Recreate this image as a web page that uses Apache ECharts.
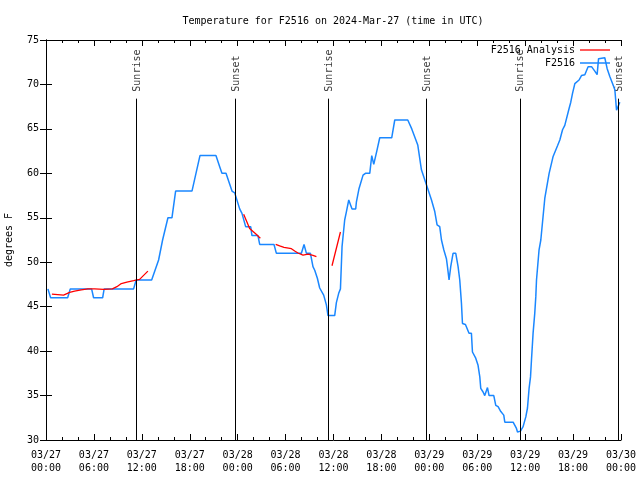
<!DOCTYPE html>
<html><head><meta charset="utf-8">
<script src="https://cdn.jsdelivr.net/npm/echarts@6/dist/echarts.min.js"></script>
<style>html,body{margin:0;padding:0;background:#fff}#c{width:640px;height:480px}</style>
</head><body><div id="c"></div>
<script>
const titleText = 'Temperature for F2516 on 2024-Mar-27 (time in UTC)';
const yAxisName = 'degrees F';
const dayLabels = ['03/27', '03/28', '03/29', '03/30'];

// observed F2516 temperature: hours since 03/27 00:00 UTC, temp in F
const obsHours = [
  0.24,0.58,2.71,3.04,5.71,5.96,7.09,7.28,10.97,11.29,
  13.23,14.1,14.6,15.27,15.77,16.23,18.28,19.28,21.28,21.75,
  22.03,22.54,23.29,23.63,24.25,24.54,25.0,25.63,25.79,26.54,
  26.76,28.55,28.85,31.98,32.31,32.61,33.11,33.43,33.65,33.98,
  34.27,34.77,35.11,35.31,36.15,36.36,36.65,36.87,37.07,37.40,
  37.62,37.91,38.32,38.78,38.87,39.2,39.7,40.0,40.54,40.79,
  41.04,41.42,41.79,43.29,43.67,45.3,45.8,46.55,47.01,47.72,
  48.27,48.68,48.97,49.3,49.52,49.81,50.14,50.27,50.47,50.68,
  50.97,51.31,51.6,51.81,52.02,52.15,52.52,52.97,53.27,53.4,
  53.81,54.1,54.32,54.44,54.73,54.94,55.28,55.48,56.07,56.32,
  56.61,56.95,57.32,57.45,58.49,58.91,59.04,59.41,59.74,60.08,
  60.29,60.49,60.67,60.79,60.99,61.2,61.33,61.42,61.74,61.96,
  62.46,63.0,63.5,64.05,64.34,64.68,64.96,65.5,65.71,65.93,
  66.22,66.75,67.05,67.47,67.88,68.31,68.72,69.01,69.19,69.97,
  70.26,70.6,70.94,71.23,71.44,71.52,71.85
];
const obsTemp = [
  47,46,46,47,47,46,46,47,47,48,
  48,50.25,52.5,55,55,58,58,62,62,60.75,
  60,60,58,57.8,56,55.5,54,54,53,53,
  52,52,51,51,52,51,51,49.5,49.1,48.2,
  47.1,46.3,45.2,44,44,45.45,46.5,47,51.75,54.75,
  55.7,57,56,56,56.8,58.3,59.8,60,60,62,
  61,62.5,64,64,66,66,65,63.2,60.4,58.5,
  57,55.7,54.2,54,52.5,51.4,50.4,49.5,48,49.5,
  51,51,49.5,48,45.4,43.1,43,42,42,39.9,
  39.2,38.4,37.1,35.8,35.4,35,35.9,35,35,33.9,
  33.75,33.2,32.8,32,32,31.3,30.9,31,31.5,32.6,
  33.6,35.8,37.1,39,42,44.25,46.1,48,51.4,52.5,
  57.2,60,61.9,63.1,63.75,64.9,65.4,67.3,68,69,
  70.1,70.5,71,71.1,72,72,71.5,71.1,72.9,73,
  71.8,70.9,70.1,69.4,67.1,66.9,68
];

// analysis segments (null separates segments)
const anaHours = [0.74,2.2,2.96,3.58,4.42,5.25,6.09,7.22,8.31,8.88,9.43,10.13,10.97,11.72,12.76, null,
  24.75,25.5,26.25,26.84, null,
  28.76,29.26,29.8,30.73,31.14,31.55,32.18,32.81,33.43,33.86, null,
  35.81,36.87];
const anaTemp = [46.4,46.3,46.6,46.76,46.9,47,47,46.95,47,47.25,47.6,47.77,47.92,48.07,49.0, null,
  55.4,53.8,53.2,52.7, null,
  52.0,51.83,51.68,51.52,51.26,51.04,50.8,50.9,50.78,50.62, null,
  49.6,53.4];

const sunriseHours = [11.33, 35.33, 59.33];
const sunsetHours = [23.67, 47.67, 71.67];
const sunLineBottom = 30;
const sunLineTop = 68.4;

const FONT = '"DejaVu Sans Mono", monospace';
const BLUE = '#1a87ff';
const RED = '#ff0000';

const obsData = obsHours.map((h, i) => [h, obsTemp[i]]);
const anaSegments = [];
let cur = [];
anaHours.forEach((h, i) => {
  if (h === null) { if (cur.length) anaSegments.push(cur); cur = []; }
  else cur.push([h, anaTemp[i]]);
});
if (cur.length) anaSegments.push(cur);

const sunMarks = sunriseHours.map(h => ({h, t: 'Sunrise'})).concat(sunsetHours.map(h => ({h, t: 'Sunset'})));

function xLabel(v) {
  const d = Math.floor(v / 24 + 1e-9);
  const hh = Math.round(v - d * 24);
  return dayLabels[d] + '\n' + String(hh).padStart(2, '0') + ':00';
}

const axisCommon = {
  axisLine: {show: true, lineStyle: {color: '#000', width: 1}},
  splitLine: {show: false},
};

const chart = echarts.init(document.getElementById('c'));
const series = [
  {
    type: 'scatter',
    name: 'sun',
    symbolSize: 0,
    silent: true,
    data: sunMarks.map(m => ({value: [m.h, sunLineTop], name: m.t})),
    label: {
      show: true,
      formatter: p => p.name,
      rotate: 90,
      position: [1, -7],
      align: 'left',
      verticalAlign: 'middle',
      color: '#000',
      fontFamily: FONT,
      fontSize: 10
    },
    markLine: {
      silent: true,
      symbol: 'none',
      label: {show: false},
      lineStyle: {color: '#000', width: 1, type: 'solid'},
      data: sunMarks.map(m => [{coord: [m.h, sunLineBottom]}, {coord: [m.h, sunLineTop]}])
    },
    z: 1
  },
  {
    type: 'line',
    name: 'F2516',
    data: obsData,
    showSymbol: false,
    symbol: 'none',
    lineStyle: {color: BLUE, width: 1.5},
    itemStyle: {color: BLUE},
    z: 2
  }
].concat(anaSegments.map(seg => ({
  type: 'line',
  name: 'F2516 Analysis',
  data: seg,
  showSymbol: false,
  symbol: 'none',
  lineStyle: {color: RED, width: 1.3},
  itemStyle: {color: RED},
  z: 3
})));

chart.setOption({
  animation: false,
  backgroundColor: '#fff',
  title: {
    text: titleText,
    left: 333,
    textAlign: 'center',
    top: 16,
    padding: 0,
    textStyle: {fontFamily: FONT, fontSize: 10, fontWeight: 'normal', color: '#000'}
  },
  legend: [
    {data: ['F2516 Analysis'], right: 30, top: 45, orient: 'vertical', align: 'right', padding: 0,
     icon: 'rect', itemWidth: 30, itemHeight: 1.3, itemGap: 0,
     textStyle: {fontFamily: FONT, fontSize: 10, color: '#000'}},
    {data: ['F2516'], right: 30, top: 58, orient: 'vertical', align: 'right', padding: 0,
     icon: 'rect', itemWidth: 30, itemHeight: 1.5, itemGap: 0,
     textStyle: {fontFamily: FONT, fontSize: 10, color: '#000'}}
  ],
  grid: {left: 46, right: 19, top: 40, bottom: 40, containLabel: false, outerBoundsMode: 'none'},
  xAxis: [
    Object.assign({
      type: 'value', min: 0, max: 72, interval: 6, position: 'bottom',
      axisTick: {show: true, inside: true, length: 6, lineStyle: {color: '#000'}},
      minorTick: {show: true, splitNumber: 3, length: 3, lineStyle: {color: '#000'}},
      minorSplitLine: {show: false},
      axisLabel: {formatter: xLabel, fontFamily: FONT, fontSize: 10, color: '#000', lineHeight: 13, margin: 9}
    }, axisCommon),
    Object.assign({
      type: 'value', min: 0, max: 72, interval: 6, position: 'top',
      axisTick: {show: true, inside: true, length: 6, lineStyle: {color: '#000'}},
      minorTick: {show: true, splitNumber: 3, length: 3, lineStyle: {color: '#000'}},
      minorSplitLine: {show: false},
      axisLabel: {show: false}
    }, axisCommon)
  ],
  yAxis: [
    Object.assign({
      type: 'value', min: 30, max: 75, interval: 5, position: 'left',
      name: yAxisName, nameLocation: 'middle', nameGap: 32,
      nameTextStyle: {fontFamily: FONT, fontSize: 10, color: '#000'},
      axisTick: {show: true, inside: true, length: 6, lineStyle: {color: '#000'}},
      axisLabel: {fontFamily: FONT, fontSize: 10, color: '#000', margin: 7}
    }, axisCommon),
    Object.assign({
      type: 'value', min: 30, max: 75, interval: 5, position: 'right',
      axisTick: {show: true, inside: true, length: 6, lineStyle: {color: '#000'}},
      axisLabel: {show: false}
    }, axisCommon)
  ],
  series: series
});
</script>
</body></html>
